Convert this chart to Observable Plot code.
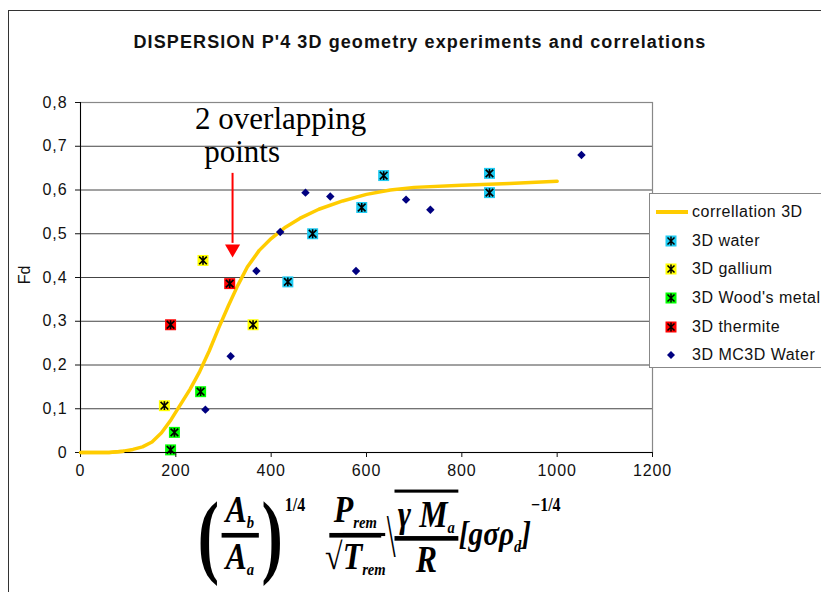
<!DOCTYPE html>
<html><head><meta charset="utf-8">
<script src="https://cdn.jsdelivr.net/npm/d3@7"></script>
<script src="https://cdn.jsdelivr.net/npm/@observablehq/plot@0.6"></script>
<style>
body{margin:0;background:#fff;}
#wrap{position:relative;width:821px;height:592px;overflow:hidden;background:#fff;font-family:"Liberation Sans",Arial,sans-serif;}
#frame{position:absolute;left:8px;top:10px;width:900px;height:700px;border-left:1.5px solid #333;border-top:1.5px solid #333;pointer-events:none;}
#chart{position:absolute;left:0;top:0;}
#chart g[aria-label="x-axis tick label"] text, #chart g[aria-label="y-axis tick label"] text{letter-spacing:0.9px;}
#title{position:absolute;left:125px;width:590px;top:32px;text-align:center;font-weight:bold;font-size:18px;letter-spacing:1.1px;color:#111;white-space:nowrap;}
#ylab{position:absolute;left:13px;top:266px;width:24px;text-align:center;font-size:16px;color:#111;transform:rotate(-90deg);}
#legend{position:absolute;left:649px;top:193px;width:200px;height:173px;border:1px solid #888;background:#fff;}
.row{position:absolute;left:0;height:20px;}
.row svg{position:absolute;left:5px;top:0;}
.row span{position:absolute;left:42px;top:1px;font-size:16px;letter-spacing:0.5px;color:#111;white-space:nowrap;}
#formula{position:absolute;left:195px;top:488px;display:flex;align-items:center;font-family:"Liberation Serif","Times New Roman",serif;font-weight:bold;font-style:italic;color:#000;transform:scale(1.33,1.55);transform-origin:0 0;}
.paren{font-size:60px;font-style:normal;line-height:1;transform:scaleX(0.8);}
.frac{display:inline-flex;flex-direction:column;align-items:center;font-size:24px;line-height:1.05;}
.frac .num{border-bottom:3px solid #000;padding:0 3px;}
.frac .den{padding:0 3px;}
sub{font-size:11px;vertical-align:-4px;}
.sup{font-size:12px;align-self:flex-start;margin-top:4px;font-style:normal;}
.rad{font-size:40px;font-style:normal;font-weight:normal;transform:scaleX(0.6);margin:0 -4px;}
.ov{border-top:2px solid #000;display:inline-flex;align-items:center;padding-top:2px;}
.brk{font-size:22px;}
</style></head>
<body>
<div id="wrap">
  <div id="chart"></div>
  <div id="frame"></div>
  <div id="title">DISPERSION P'4 3D geometry experiments and correlations</div>
  <div id="ylab">Fd</div>
  <div id="legend"></div>
  <div id="formula">
    <span class="paren">(</span>
    <span class="frac"><span class="num">A<sub>b</sub></span><span class="den">A<sub>a</sub></span></span>
    <span class="paren">)</span>
    <span class="sup">1/4</span>
    <span style="width:12px"></span>
    <span class="frac"><span class="num">P<sub>rem</sub></span><span class="den"><span style="font-style:normal">√</span><span style="border-top:2px solid #000">T<sub>rem</sub></span></span></span>
    <span class="rad">\</span>
    <span class="ov"><span class="frac"><span class="num">γ M<sub>a</sub></span><span class="den">R</span></span></span>
    <span class="brk">[gσρ<sub>d</sub>]</span>
    <span class="sup">−1/4</span>
  </div>
</div>
<script>
// ---- data ----
const xTicks = [0, 200, 400, 600, 800, 1000, 1200];
const yTicks = [0, 0.1, 0.2, 0.3, 0.4, 0.5, 0.6, 0.7, 0.8];
const yTickLabels = ["0", "0,1", "0,2", "0,3", "0,4", "0,5", "0,6", "0,7", "0,8"];

const corrX = [0, 60, 90, 110, 130, 150, 170, 190, 210, 230, 250, 270, 290, 310, 330, 350, 375, 400, 430, 460, 500, 550, 600, 650, 700, 800, 900, 1000];
const corrY = [0, 0, 0.003, 0.007, 0.013, 0.024, 0.045, 0.075, 0.11, 0.145, 0.185, 0.232, 0.285, 0.335, 0.382, 0.424, 0.462, 0.489, 0.515, 0.535, 0.556, 0.575, 0.590, 0.600, 0.606, 0.611, 0.615, 0.620];

const waterX = [435, 487, 590, 636, 858, 858];
const waterY = [0.39, 0.50, 0.56, 0.633, 0.638, 0.594];
const galliumX = [176, 257, 362];
const galliumY = [0.107, 0.439, 0.292];
const woodX = [189, 197, 252];
const woodY = [0.006, 0.046, 0.139];
const thermiteX = [189, 313];
const thermiteY = [0.292, 0.386];
const mc3dX = [262, 315, 369, 419, 472, 524, 578, 683, 734, 1051];
const mc3dY = [0.098, 0.22, 0.415, 0.504, 0.594, 0.585, 0.415, 0.578, 0.555, 0.68];

const seriesNames = ["correllation 3D", "3D water", "3D gallium", "3D Wood's metal", "3D thermite", "3D MC3D Water"];
const seriesColors = ["#FFCC00", "#1ECBF2", "#FFFF00", "#00FF00", "#FF0000", "#000080"];

const annotText = ["2 overlapping", "points"];
const annotX = [420, 339];
const annotY = [0.763, 0.686];
const arrowX = [319];
const arrowY1 = [0.638];
const arrowY2 = [0.478];
const arrowHeadY = [0.4656];

// ---- build ----
const zip = (xs, ys, s) => xs.map((x, i) => ({x, y: ys[i], s}));
const curve = zip(corrX, corrY);
const squares = [
  ...zip(waterX, waterY, 1), ...zip(galliumX, galliumY, 2),
  ...zip(woodX, woodY, 3), ...zip(thermiteX, thermiteY, 4)
];
const mc3d = zip(mc3dX, mc3dY);
const annots = annotText.map((t, i) => ({t, x: annotX[i], y: annotY[i]}));
const arrows = arrowX.map((x, i) => ({x, y1: arrowY1[i], y2: arrowY2[i], yh: arrowHeadY[i]}));

const star = {draw(ctx, size) {
  const r = Math.sqrt(size) / 2;
  ctx.moveTo(-r, -r); ctx.lineTo(r, r);
  ctx.moveTo(-r, r); ctx.lineTo(r, -r);
  ctx.moveTo(0, -r * 1.15); ctx.lineTo(0, r * 1.15);
}};

const chart = Plot.plot({
  width: 821, height: 592,
  marginLeft: 80, marginRight: 169, marginTop: 102, marginBottom: 140,
  style: {background: "transparent", fontFamily: "Liberation Sans, Arial, sans-serif", fontSize: "15px", color: "#111"},
  x: {domain: [0, 1200]},
  y: {domain: [0, 0.8]},
  marks: [
    Plot.ruleY(yTicks.slice(1), {stroke: "#444", strokeWidth: 1}),
    Plot.frame({stroke: "#888", strokeWidth: 1.2}),
    Plot.line(curve, {x: "x", y: "y", stroke: seriesColors[0], strokeWidth: 3.5, curve: "linear"}),
    Plot.dot(squares, {x: "x", y: "y", symbol: "square", r: 6.2, fill: d => seriesColors[d.s], stroke: "none"}),
    Plot.dot(squares, {x: "x", y: "y", symbol: star, r: 4.3, fill: "none", stroke: "#000", strokeWidth: 1.6}),
    Plot.dot(mc3d, {x: "x", y: "y", symbol: "diamond2", r: 3.8, fill: seriesColors[5], stroke: "none"}),
    Plot.ruleX([0], {stroke: "#000", strokeWidth: 1}),
    Plot.ruleY([0], {stroke: "#000", strokeWidth: 1}),
    Plot.axisX({ticks: xTicks, tickSize: 5, tickPadding: 7, label: null, fontSize: 16, tickFormat: d => String(d)}),
    Plot.axisY({ticks: yTicks, tickSize: 5, tickPadding: 8, label: null, fontSize: 16, tickFormat: d => yTickLabels[yTicks.indexOf(d)]}),
    Plot.line(curve.slice(0, 3), {x: "x", y: "y", stroke: seriesColors[0], strokeWidth: 3.5}),
    Plot.ruleX(arrows, {x: "x", y1: "y1", y2: "y2", stroke: "#FF0000", strokeWidth: 2}),
    Plot.dot(arrows, {x: "x", y: "yh", symbol: "triangle", r: 5.6, rotate: 180, fill: "#FF0000", stroke: "none"}),
    Plot.text(annots, {x: "x", y: "y", text: "t", fontFamily: "Liberation Serif, Times New Roman, serif", fontSize: 31, fill: "#000", textAnchor: "middle"})
  ]
});
document.getElementById("chart").appendChild(chart);

// ---- legend ----
const legend = document.getElementById("legend");
const rowTops = [8, 37, 65, 94, 123, 151];
seriesNames.forEach((name, i) => {
  const row = document.createElement("div");
  row.className = "row";
  row.style.top = rowTops[i] + "px";
  let icon;
  if (i === 0) {
    icon = `<svg width="34" height="20"><line x1="1" x2="33" y1="10" y2="10" stroke="${seriesColors[0]}" stroke-width="4"/></svg>`;
  } else if (i === 5) {
    icon = `<svg width="34" height="20"><path d="M16,6 L20,10 L16,14 L12,10 Z" fill="${seriesColors[5]}"/></svg>`;
  } else {
    icon = `<svg width="34" height="20"><rect x="10.5" y="4.5" width="11" height="11" fill="${seriesColors[i]}"/><path d="M12.5,6.5 L19.5,13.5 M12.5,13.5 L19.5,6.5 M16,5.5 L16,14.5" stroke="#000" stroke-width="1.5"/></svg>`;
  }
  row.innerHTML = icon + `<span>${name}</span>`;
  legend.appendChild(row);
});
</script>
</body></html>
